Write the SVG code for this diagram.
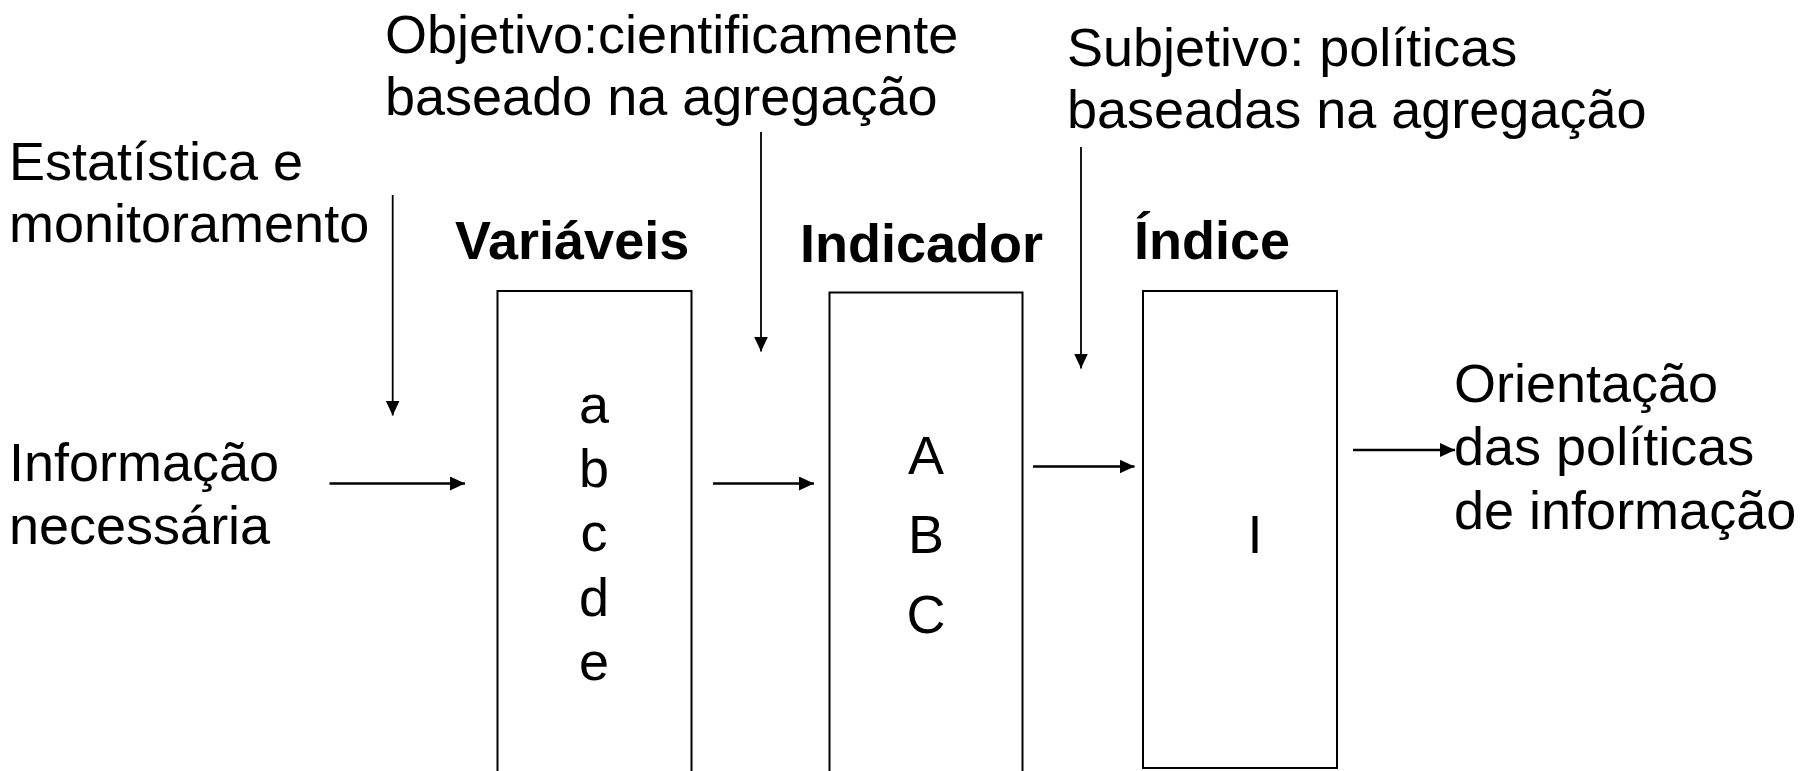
<svg xmlns="http://www.w3.org/2000/svg" width="1801" height="771" viewBox="0 0 1801 771">
<style>
  .t { font-family: "Liberation Sans", Arial, sans-serif; font-size: 54px; fill: #000; }
  .b { font-family: "Liberation Sans", Arial, sans-serif; font-size: 54px; font-weight: bold; fill: #000; }
  .m { text-anchor: middle; }
  .box { fill: none; stroke: #000; stroke-width: 2; }
  .v { stroke: #000; stroke-width: 1.8; fill: none; marker-end: url(#ah); }
  .h { stroke: #000; stroke-width: 2.6; fill: none; marker-end: url(#ah); }
</style>
<defs>
  <marker id="ah" markerUnits="userSpaceOnUse" markerWidth="16" markerHeight="14" refX="15" refY="7" orient="auto">
    <path d="M0,0 L15,7 L0,14 z" fill="#000"/>
  </marker>
</defs>
<rect x="0" y="0" width="1801" height="771" fill="#fff"/>

<g id="label-estatistica">
  <text class="t" x="9" y="180">Estatística e</text>
  <text class="t" x="9" y="242">monitoramento</text>
</g>
<g id="label-objetivo">
  <text class="t" x="385" y="53">Objetivo:cientificamente</text>
  <text class="t" x="385" y="115">baseado na agregação</text>
</g>
<g id="label-subjetivo">
  <text class="t" x="1067" y="66">Subjetivo: políticas</text>
  <text class="t" x="1067" y="128">baseadas na agregação</text>
</g>
<g id="label-informacao">
  <text class="t" x="9" y="481">Informação</text>
  <text class="t" x="9" y="544">necessária</text>
</g>
<g id="node-variaveis">
  <text class="b" x="455" y="259">Variáveis</text>
  <rect class="box" x="497.5" y="291" width="194" height="490"/>
  <text class="t m" x="594" y="423">a</text>
  <text class="t m" x="594" y="487">b</text>
  <text class="t m" x="594" y="551">c</text>
  <text class="t m" x="594" y="616">d</text>
  <text class="t m" x="594" y="680">e</text>
</g>
<g id="node-indicador">
  <text class="b" x="800" y="262">Indicador</text>
  <rect class="box" x="829.5" y="292.5" width="193" height="490"/>
  <text class="t m" x="926" y="474">A</text>
  <text class="t m" x="926" y="553">B</text>
  <text class="t m" x="926" y="633">C</text>
</g>
<g id="node-indice">
  <text class="b" x="1134" y="259">Índice</text>
  <rect class="box" x="1143" y="291" width="194" height="477"/>
  <text class="t m" x="1255" y="553">I</text>
</g>
<g id="label-orientacao">
  <text class="t" x="1454" y="402">Orientação</text>
  <text class="t" x="1454" y="465">das políticas</text>
  <text class="t" x="1454" y="529">de informação</text>
</g>

<g id="connectors">
  <line class="v" x1="392.7" y1="195" x2="392.7" y2="415.5"/>
  <line class="v" x1="761" y1="132" x2="761" y2="351.6"/>
  <line class="v" x1="1081" y1="147" x2="1081" y2="368.5"/>
  <line class="h" x1="329.5" y1="483.5" x2="465" y2="483.5"/>
  <line class="h" x1="713" y1="483.5" x2="814" y2="483.5"/>
  <line class="h" x1="1033" y1="466.5" x2="1134.5" y2="466.5"/>
  <line class="h" x1="1353" y1="450" x2="1455" y2="450"/>
</g>
</svg>
